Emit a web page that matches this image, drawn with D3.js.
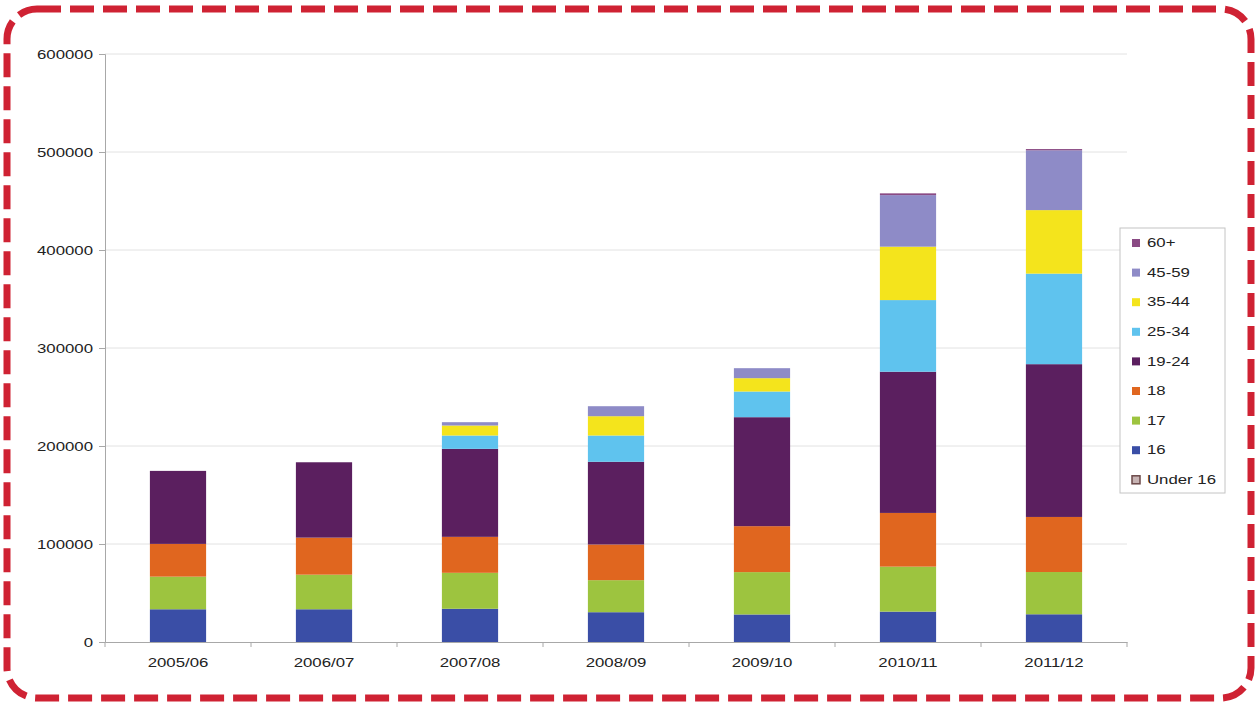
<!DOCTYPE html>
<html>
<head>
<meta charset="utf-8">
<script src="https://cdn.jsdelivr.net/npm/d3@7"></script>
<style>
  html, body { margin: 0; padding: 0; background: #fff; }
  svg { display: block; }
  text { font-family: "Liberation Sans", Arial, sans-serif; fill: #222; }
</style>
</head>
<body>
<svg id="chart" width="1255" height="702"></svg>
<script>
// Academic years on the horizontal axis
const years = ["2005/06", "2006/07", "2007/08", "2008/09", "2009/10", "2010/11", "2011/12"];

// Age bands, stacked from the bottom up
const ageGroups = ["Under 16", "16", "17", "18", "19-24", "25-34", "35-44", "45-59", "60+"];

// Starts per year for each age band
const under16   = [0, 0, 0, 0, 0, 0, 0];
const age16     = [33400, 33400, 33900, 30400, 28100, 31000, 28300];
const age17     = [33300, 35300, 36700, 32700, 43200, 45900, 43100];
const age18     = [33400, 37800, 36700, 36400, 46900, 54800, 56200];
const age19to24 = [74500, 76900, 89800, 84400, 111200, 144100, 155900];
const age25to34 = [0, 0, 13600, 26800, 26200, 73100, 92400];
const age35to44 = [0, 0, 10200, 19700, 13600, 54500, 64800];
const age45to59 = [0, 0, 3400, 10200, 10200, 52600, 61000];
const age60plus = [0, 0, 0, 0, 0, 1800, 1300];

const yTicks = [0, 100000, 200000, 300000, 400000, 500000, 600000];

const bandColors = {
  "Under 16": "#c7b3b3",
  "16": "#3a4ea6",
  "17": "#9dc43f",
  "18": "#e0661f",
  "19-24": "#5b1f5f",
  "25-34": "#5fc3ee",
  "35-44": "#f4e41c",
  "45-59": "#8e8bc7",
  "60+": "#8a4a84"
};

const seriesByGroup = {
  "Under 16": under16, "16": age16, "17": age17, "18": age18,
  "19-24": age19to24, "25-34": age25to34, "35-44": age35to44,
  "45-59": age45to59, "60+": age60plus
};

// Rows for d3.stack
const rows = years.map((yr, i) => {
  const r = { year: yr };
  ageGroups.forEach(g => { r[g] = seriesByGroup[g][i]; });
  return r;
});

const svg = d3.select("#chart");
const plot = { left: 105, right: 1127, top: 54, bottom: 642 };
const stretch = 1.4; // wide lettering used throughout the chart

const x = d3.scaleBand()
  .domain(years)
  .range([plot.left, plot.right])
  .paddingInner(0.615)
  .paddingOuter(0.3075);

const y = d3.scaleLinear()
  .domain([0, 600000])
  .range([plot.bottom, plot.top]);

// Decorative dashed frame
svg.append("rect")
  .attr("x", 7).attr("y", 9)
  .attr("width", 1244).attr("height", 689)
  .attr("rx", 30).attr("ry", 30)
  .attr("fill", "none")
  .attr("stroke", "#cf2233")
  .attr("stroke-width", 7)
  .attr("stroke-dasharray", "24 9");

// Horizontal gridlines
svg.append("g")
  .selectAll("line")
  .data(yTicks.filter(t => t > 0))
  .join("line")
  .attr("x1", plot.left).attr("x2", plot.right)
  .attr("y1", d => y(d)).attr("y2", d => y(d))
  .attr("stroke", "#e2e2e2")
  .attr("stroke-width", 1);

// Stacked bars
const stack = d3.stack().keys(ageGroups);
const layers = stack(rows);

svg.append("g")
  .selectAll("g")
  .data(layers)
  .join("g")
  .attr("fill", d => bandColors[d.key])
  .selectAll("rect")
  .data(d => d)
  .join("rect")
  .attr("x", d => x(d.data.year))
  .attr("width", x.bandwidth())
  .attr("y", d => y(d[1]))
  .attr("height", d => Math.max(0, y(d[0]) - y(d[1])));

// Y axis
const yAxis = svg.append("g")
  .attr("transform", `translate(${plot.left},0)`)
  .call(d3.axisLeft(y).tickValues(yTicks).tickSize(6).tickPadding(0).tickFormat(d3.format("d")));
yAxis.select(".domain").attr("stroke", "#a8a8a8");
yAxis.selectAll(".tick line").attr("stroke", "#a8a8a8");
yAxis.selectAll(".tick text")
  .attr("x", null).attr("dy", null)
  .attr("text-anchor", "end")
  .attr("dominant-baseline", "central")
  .attr("font-size", 12)
  .attr("fill", "#222")
  .attr("transform", `translate(-12,0) scale(${stretch},1)`);

// X axis with tick marks between categories
const xAxis = svg.append("g")
  .attr("transform", `translate(0,${plot.bottom})`)
  .call(d3.axisBottom(x).tickSize(0).tickPadding(0));
xAxis.select(".domain").attr("stroke", "#a8a8a8");
xAxis.selectAll(".tick text")
  .attr("y", null).attr("dy", null)
  .attr("text-anchor", "middle")
  .attr("dominant-baseline", "central")
  .attr("font-size", 12)
  .attr("fill", "#222")
  .attr("transform", `translate(0,21) scale(${stretch},1)`);

const boundaries = d3.range(years.length + 1).map(i => plot.left + i * x.step());
xAxis.selectAll(".sep")
  .data(boundaries)
  .join("line")
  .attr("class", "sep")
  .attr("x1", d => d).attr("x2", d => d)
  .attr("y1", 0).attr("y2", 5)
  .attr("stroke", "#a8a8a8");

// Legend (top band first)
const legend = svg.append("g").attr("transform", "translate(1120,228)");
legend.append("rect")
  .attr("width", 105).attr("height", 265)
  .attr("fill", "#fff")
  .attr("stroke", "#c4c4c4")
  .attr("stroke-width", 1);

const legendItems = legend.selectAll("g.item")
  .data(ageGroups.slice().reverse())
  .join("g")
  .attr("class", "item")
  .attr("transform", (d, i) => `translate(0,${15 + i * 29.6})`);

legendItems.append("rect")
  .attr("x", 12).attr("y", -4)
  .attr("width", 8).attr("height", 8)
  .attr("fill", d => bandColors[d])
  .attr("stroke", d => d === "Under 16" ? "#6b4848" : "none")
  .attr("stroke-width", 1.5);

legendItems.append("text")
  .attr("dominant-baseline", "central")
  .attr("font-size", 12)
  .attr("fill", "#222")
  .attr("transform", `translate(27,0) scale(${stretch},1)`)
  .text(d => d);
</script>
</body>
</html>
